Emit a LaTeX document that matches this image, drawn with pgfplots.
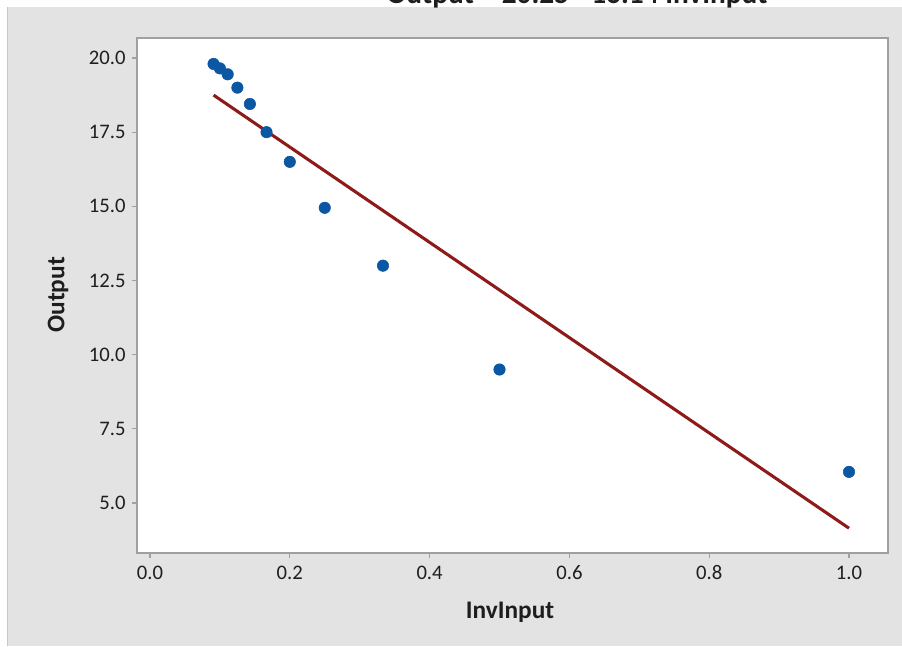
\documentclass[border=0pt]{standalone}
\usepackage{pgfplots}
\pgfplotsset{compat=1.18}
\usepackage{fontspec}
\setmainfont{Carlito}
\definecolor{bggray}{HTML}{E3E3E3}
\definecolor{framegray}{HTML}{A0A0A0}
\definecolor{ptblue}{HTML}{0B57A4}
\definecolor{fitred}{HTML}{8E1A1A}
\definecolor{txt}{HTML}{1E1E1E}
\begin{document}
\begin{tikzpicture}[x=0.75pt,y=0.75pt]
\fill[white] (-137,-93) rectangle (765,553);
\fill[bggray] (-129,-93) rectangle (765,546);
\draw[color=black!22,line width=0.75pt] (-129,-93) -- (-129,546);
\begin{axis}[
  at={(0,0)}, anchor=south west,
  scale only axis,
  width=563.25pt, height=386.25pt,
  xmin=-0.0186, xmax=1.0558,
  ymin=3.315, ymax=20.674,
  axis background/.style={fill=white},
  axis line style={framegray, line width=1pt},
  xtick={0,0.2,0.4,0.6,0.8,1.0},
  ytick={5,7.5,10,12.5,15,17.5,20},
  xtick pos=left, ytick pos=left,
  tick align=outside,
  major tick length=4pt,
  every tick/.style={framegray, line width=0.8pt},
  /pgf/number format/.cd, fixed, fixed zerofill, precision=1, assume math mode=true,
  /pgfplots/.cd,
  ticklabel style={font=\fontsize{15.5}{18}\selectfont, text=txt},
  xticklabel style={yshift=-2pt},
  yticklabel style={xshift=-1pt},
  xlabel={InvInput},
  ylabel={Output},
  every axis x label/.style={at={(axis description cs:0.4967,-0.1146)}, anchor=center, font=\bfseries\fontsize{19}{22}\selectfont, text=txt},
  every axis y label/.style={at={(axis description cs:-0.1052,0.501)}, anchor=center, rotate=90, font=\bfseries\fontsize{19}{22}\selectfont, text=txt},
  clip=true,
]
\addplot[only marks, mark=*, mark size=4.3pt, color=ptblue, mark options={draw=ptblue, fill=ptblue}] coordinates {
  (1.0,6.05) (0.5,9.5) (0.3333,13.0) (0.25,14.95) (0.2,16.5) (0.1667,17.5)
  (0.1429,18.45) (0.125,19.0) (0.1111,19.45) (0.1,19.65) (0.0909,19.8)
};
\addplot[color=fitred, line width=2.3pt] coordinates {
  (0.0909,18.75) (1.0,4.15)
};
\end{axis}
\node[anchor=base, font=\bfseries\fontsize{22}{26}\selectfont, text=txt] at (440,549) {Output = 20.25 - 16.14 InvInput};
\pgfresetboundingbox
\useasboundingbox (-137,-93) rectangle (765,553);
\end{tikzpicture}
\end{document}
